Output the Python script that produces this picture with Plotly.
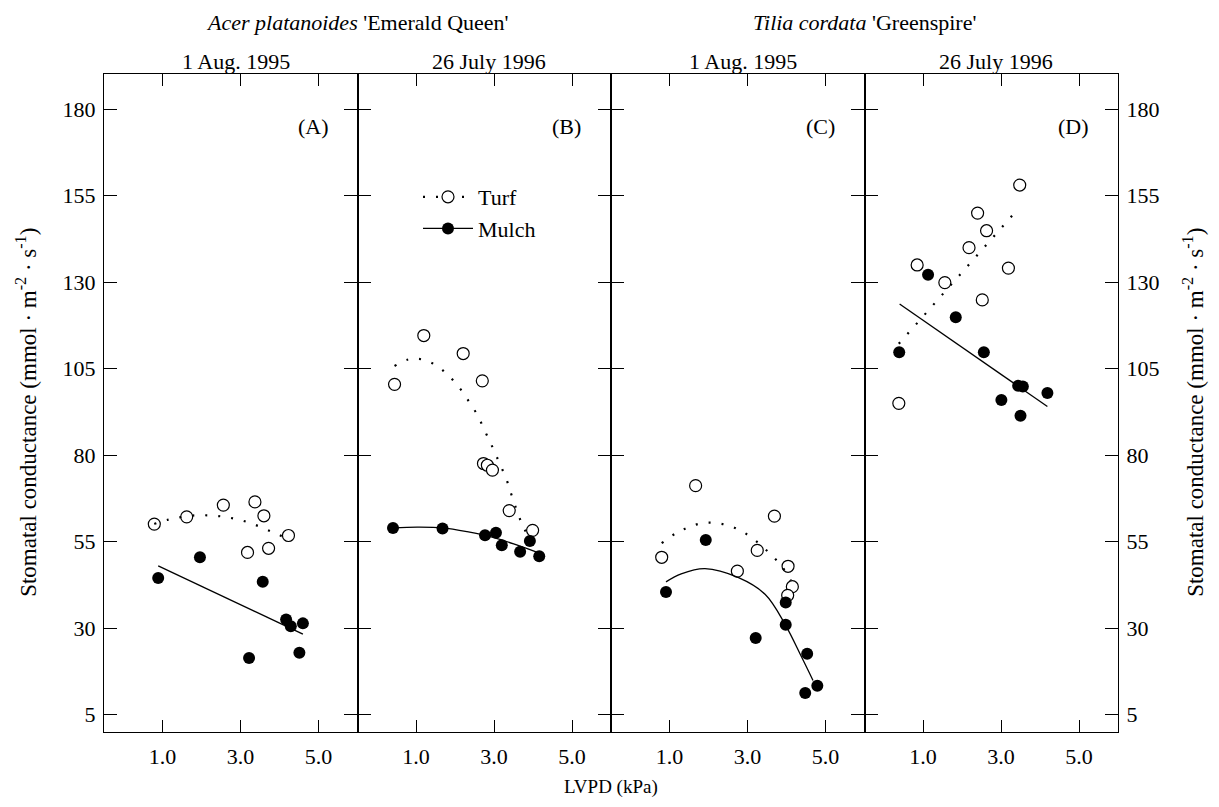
import plotly.graph_objects as go
from plotly.subplots import make_subplots

FONT = "Liberation Serif"

# ---------------- data ----------------
# Panel A: Acer, 1 Aug 1995
turf_x_A = [0.79, 1.62, 2.56, 3.37, 3.60, 4.23, 3.18, 3.72]
turf_y_A = [60.1, 62.2, 65.6, 66.5, 62.5, 56.8, 51.9, 53.1]
mulch_x_A = [0.89, 1.96, 3.57, 4.17, 4.29, 4.60, 3.22, 4.51]
mulch_y_A = [44.5, 50.5, 43.4, 32.5, 30.6, 31.4, 21.4, 22.9]
turf_fit_x_A = [0.79, 1.15, 1.83, 2.52, 3.20, 3.89, 4.23]
turf_fit_y_A = [60.1, 61.4, 62.6, 62.3, 60.6, 57.4, 55.8]
mulch_fit_x_A = [0.89, 4.60]
mulch_fit_y_A = [48.0, 28.3]

# Panel B: Acer, 26 July 1996
turf_x_B = [0.45, 1.20, 2.21, 2.70, 2.73, 2.83, 2.96, 3.39, 3.99]
turf_y_B = [100.5, 114.6, 109.4, 101.5, 77.6, 77.1, 75.7, 64.0, 58.3]
mulch_x_B = [0.41, 1.68, 2.77, 3.05, 3.20, 3.67, 3.92, 4.16]
mulch_y_B = [59.0, 58.8, 56.9, 57.6, 54.0, 52.1, 55.2, 50.8]
turf_fit_x_B = [0.45, 0.81, 1.15, 1.50, 1.84, 2.14, 2.37, 2.58, 2.75, 2.91,
                3.06, 3.21, 3.34, 3.45, 3.69, 3.90]
turf_fit_y_B = [105.8, 107.7, 107.7, 106.1, 103.0, 99.1, 95.3, 91.5, 87.4, 83.6,
                79.8, 76.0, 72.4, 68.5, 60.9, 56.0]
mulch_fit_x_B = [0.41, 1.03, 1.68, 2.31, 3.00, 3.60, 4.16]
mulch_fit_y_B = [59.0, 59.2, 59.0, 57.9, 56.2, 54.0, 51.7]

# Panel C: Tilia, 1 Aug 1995
turf_x_C = [1.67, 3.69, 0.80, 3.25, 2.74, 4.04, 4.15, 4.03]
turf_y_C = [71.2, 62.4, 50.5, 52.5, 46.5, 47.9, 42.0, 39.5]
mulch_x_C = [1.93, 0.91, 3.21, 3.98, 3.98, 4.53, 4.48, 4.79]
mulch_y_C = [55.5, 40.5, 27.2, 37.4, 31.0, 22.6, 11.3, 13.4]
turf_fit_x_C = [0.80, 1.17, 1.51, 1.85, 2.19, 2.54, 2.89, 3.23, 3.58, 3.87, 4.11]
turf_fit_y_C = [54.6, 57.5, 59.3, 60.4, 60.4, 59.6, 57.8, 55.1, 51.5, 48.0, 43.8]
mulch_fit_x_C = [0.91, 1.30, 1.91, 2.77, 3.45, 3.96, 4.39, 4.68]
mulch_fit_y_C = [43.4, 45.7, 47.2, 44.6, 39.8, 31.2, 21.6, 14.9]

# Panel D: Tilia, 26 July 1996
turf_x_D = [3.48, 2.40, 2.63, 2.18, 0.85, 3.19, 1.56, 2.52, 0.38]
turf_y_D = [158.1, 150.0, 144.9, 140.0, 135.0, 134.1, 129.9, 124.9, 95.0]
mulch_x_D = [1.13, 1.84, 0.39, 2.56, 3.44, 3.56, 4.19, 3.01, 3.50]
mulch_y_D = [132.2, 119.9, 109.8, 109.8, 100.1, 99.9, 98.0, 96.0, 91.4]
turf_fit_x_D = [0.38, 3.39]
turf_fit_y_D = [112.2, 150.6]
mulch_fit_x_D = [0.40, 4.19]
mulch_fit_y_D = [123.7, 94.1]

panel_labels = ["(A)", "(B)", "(C)", "(D)"]
date_labels = ["1 Aug. 1995", "26 July 1996", "1 Aug. 1995", "26 July 1996"]
species_labels = ["<i>Acer platanoides</i> 'Emerald Queen'",
                  "<i>Tilia cordata</i> 'Greenspire'"]
x_tick_vals = [1, 3, 5]
x_tick_text = ["1.0", "3.0", "5.0"]
y_tick_vals = [5, 30, 55, 80, 105, 130, 155, 180]
y_title = "Stomatal conductance (mmol · m<sup>-2</sup> · s<sup>-1</sup>)"
x_title = "LVPD (kPa)"
series_names = ["Turf", "Mulch"]

panels = [
    (turf_x_A, turf_y_A, mulch_x_A, mulch_y_A, turf_fit_x_A, turf_fit_y_A, mulch_fit_x_A, mulch_fit_y_A),
    (turf_x_B, turf_y_B, mulch_x_B, mulch_y_B, turf_fit_x_B, turf_fit_y_B, mulch_fit_x_B, mulch_fit_y_B),
    (turf_x_C, turf_y_C, mulch_x_C, mulch_y_C, turf_fit_x_C, turf_fit_y_C, mulch_fit_x_C, mulch_fit_y_C),
    (turf_x_D, turf_y_D, mulch_x_D, mulch_y_D, turf_fit_x_D, turf_fit_y_D, mulch_fit_x_D, mulch_fit_y_D),
]

# ---------------- styles ----------------
FS = 22
open_marker = dict(size=12, color="white", line=dict(color="black", width=1.2))
filled_marker = dict(size=12, color="black", line=dict(color="black", width=0))
dot_line = dict(color="black", width=2.2, dash="2px,11px")
solid_line = dict(color="black", width=1.3)

fig = make_subplots(rows=1, cols=4, horizontal_spacing=0)

for i, (tx, ty, mx, my, tfx, tfy, mfx, mfy) in enumerate(panels, start=1):
    fig.add_trace(go.Scatter(x=tx, y=ty, mode="markers", marker=open_marker,
                             showlegend=False, hoverinfo="skip"), row=1, col=i)
    fig.add_trace(go.Scatter(x=mx, y=my, mode="markers", marker=filled_marker,
                             showlegend=False, hoverinfo="skip"), row=1, col=i)
    shape_t = "spline" if len(tfx) > 2 else "linear"
    shape_m = "spline" if len(mfx) > 2 else "linear"
    fig.add_trace(go.Scatter(x=tfx, y=tfy, mode="lines", line=dict(dot_line, shape=shape_t),
                             showlegend=False, hoverinfo="skip"), row=1, col=i)
    fig.add_trace(go.Scatter(x=mfx, y=mfy, mode="lines", line=dict(solid_line, shape=shape_m),
                             showlegend=False, hoverinfo="skip"), row=1, col=i)

# legend entries (no data drawn)
fig.add_trace(go.Scatter(x=[None], y=[None], mode="lines+markers", name=series_names[0],
                         marker=open_marker, line=dot_line), row=1, col=2)
fig.add_trace(go.Scatter(x=[None], y=[None], mode="lines+markers", name=series_names[1],
                         marker=filled_marker, line=solid_line), row=1, col=2)

axis_common = dict(showline=True, linecolor="black", linewidth=1.3, showgrid=False,
                   zeroline=False, ticks="inside", mirror="ticks", tickcolor="black",
                   tickwidth=1.3, tickfont=dict(family=FONT, size=FS, color="black"))

for i in range(1, 5):
    fig.update_xaxes(range=[-0.5, 6.0], tickvals=x_tick_vals, ticktext=x_tick_text,
                     ticklen=12, ticklabelstandoff=4, **axis_common, row=1, col=i)
    fig.update_yaxes(range=[0, 190.2], tickvals=y_tick_vals, ticklen=13,
                     ticklabelstandoff=3, showticklabels=(i in (1, 4)),
                     side=("right" if i == 4 else "left"), **axis_common, row=1, col=i)

annotations = []
# panel letters
for i, lab in enumerate(panel_labels, start=1):
    sfx = "" if i == 1 else str(i)
    annotations.append(dict(text=lab, x=4.87, y=175, xref="x" + sfx, yref="y" + sfx,
                            showarrow=False, xanchor="center", yanchor="middle",
                            font=dict(family=FONT, size=FS, color="black")))
# date labels
W = 1014.0
H = 658.0
for i, lab in enumerate(date_labels):
    cx = (i + 0.5) / 4 + 5 / W
    annotations.append(dict(text=lab, x=cx, y=1 + 12 / H, xref="paper", yref="paper",
                            showarrow=False, xanchor="center", yanchor="middle",
                            font=dict(family=FONT, size=FS, color="black")))
# species labels
for j, lab in enumerate(species_labels):
    annotations.append(dict(text=lab, x=0.25 + 0.5 * j, y=1 + 52 / H, xref="paper", yref="paper",
                            showarrow=False, xanchor="center", yanchor="middle",
                            font=dict(family=FONT, size=FS, color="black")))
# axis titles
annotations.append(dict(text=x_title, x=0.5, y=-55 / H, xref="paper", yref="paper",
                        showarrow=False, xanchor="center", yanchor="middle",
                        font=dict(family=FONT, size=19, color="black")))
annotations.append(dict(text=y_title, x=-77 / W, y=0.485, xref="paper", yref="paper",
                        showarrow=False, textangle=-90, xanchor="center", yanchor="middle",
                        font=dict(family=FONT, size=23, color="black")))
annotations.append(dict(text=y_title, x=1 + 76 / W, y=0.485, xref="paper", yref="paper",
                        showarrow=False, textangle=-90, xanchor="center", yanchor="middle",
                        font=dict(family=FONT, size=23, color="black")))

# the page body has an 8px default margin; size the figure so the plot area lands
# at the reference position (plot area 1014 x 658 px)
fig.update_layout(
    width=1203, height=791,
    margin=dict(l=96, r=93, t=66, b=67),
    paper_bgcolor="white", plot_bgcolor="white",
    annotations=annotations,
    showlegend=True,
    legend=dict(x=(418 - 104) / W, y=1 - (176 - 74) / H, xanchor="left", yanchor="top",
                bgcolor="rgba(0,0,0,0)", font=dict(family=FONT, size=FS, color="black"),
                itemwidth=50, tracegroupgap=0),
)

fig.write_html("out.html")
